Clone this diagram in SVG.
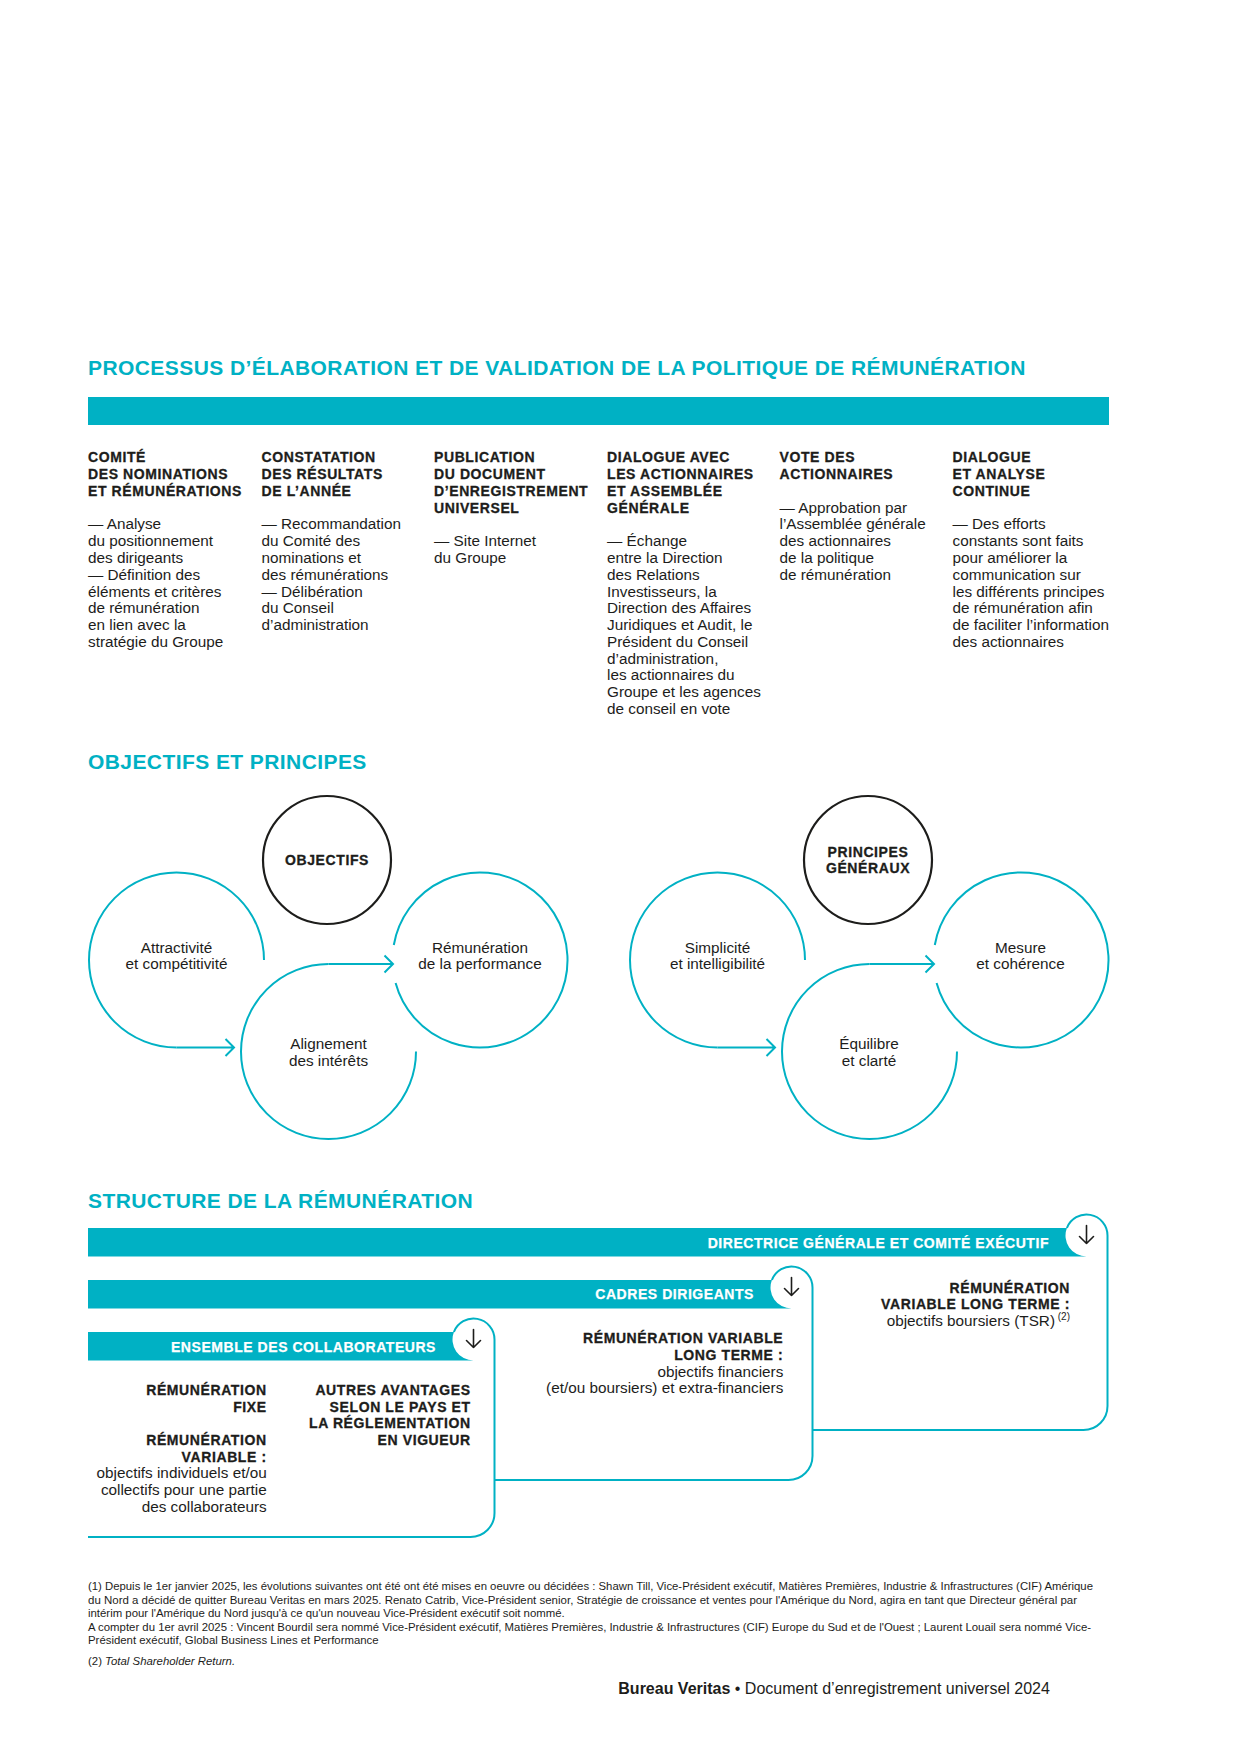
<svg xmlns="http://www.w3.org/2000/svg" width="1240" height="1753" viewBox="0 0 1240 1753">
<style>
  .title { font-family: "Liberation Sans", Arial, sans-serif; font-weight: bold; font-size: 21px; fill: #00B1C4; letter-spacing: 0.42px; }
  .h { font-family: "Liberation Sans", Arial, sans-serif; font-weight: bold; font-size: 14px; fill: #1d1d1b; stroke: #1d1d1b; stroke-width: 0.3px; letter-spacing: 0.6px; }
  .b { font-family: "Liberation Sans", Arial, sans-serif; font-size: 15.3px; fill: #1d1d1b; }
  .bw { font-family: "Liberation Sans", Arial, sans-serif; font-weight: bold; font-size: 14px; fill: #ffffff; stroke: #ffffff; stroke-width: 0.25px; letter-spacing: 0.55px; }
  .fn { font-family: "Liberation Sans", Arial, sans-serif; font-size: 11.4px; fill: #1d1d1b; }
  .ft { font-family: "Liberation Sans", Arial, sans-serif; font-size: 16px; fill: #1d1d1b; }
  .tl { fill: none; stroke: #00B1C4; stroke-width: 2; }
  .bk { fill: none; stroke: #1d1d1b; stroke-width: 2.2; }
  .ar { fill: none; stroke: #1d1d1b; stroke-width: 1.6; stroke-linecap: round; stroke-linejoin: round; }
  .bar { fill: #00B1C4; }
  .mid { text-anchor: middle; }
  .end { text-anchor: end; }
</style>

<!-- Section 1 -->
<text class="title" x="88" y="375">PROCESSUS D’ÉLABORATION ET DE VALIDATION DE LA POLITIQUE DE RÉMUNÉRATION</text>
<rect class="bar" x="88" y="397" width="1021" height="28"/>

<g id="col1">
  <text class="h" x="88" y="462.3">COMITÉ</text>
  <text class="h" x="88" y="479.1">DES NOMINATIONS</text>
  <text class="h" x="88" y="495.8">ET RÉMUNÉRATIONS</text>
  <text class="b" x="88" y="529.4">— Analyse</text>
  <text class="b" x="88" y="546.2">du positionnement</text>
  <text class="b" x="88" y="562.9">des dirigeants</text>
  <text class="b" x="88" y="579.7">— Définition des</text>
  <text class="b" x="88" y="596.5">éléments et critères</text>
  <text class="b" x="88" y="613.2">de rémunération</text>
  <text class="b" x="88" y="630.0">en lien avec la</text>
  <text class="b" x="88" y="646.7">stratégie du Groupe</text>
</g>
<g id="col2">
  <text class="h" x="261.5" y="462.3">CONSTATATION</text>
  <text class="h" x="261.5" y="479.1">DES RÉSULTATS</text>
  <text class="h" x="261.5" y="495.8">DE L’ANNÉE</text>
  <text class="b" x="261.5" y="529.4">— Recommandation</text>
  <text class="b" x="261.5" y="546.2">du Comité des</text>
  <text class="b" x="261.5" y="562.9">nominations et</text>
  <text class="b" x="261.5" y="579.7">des rémunérations</text>
  <text class="b" x="261.5" y="596.5">— Délibération</text>
  <text class="b" x="261.5" y="613.2">du Conseil</text>
  <text class="b" x="261.5" y="630.0">d’administration</text>
</g>
<g id="col3">
  <text class="h" x="434" y="462.3">PUBLICATION</text>
  <text class="h" x="434" y="479.1">DU DOCUMENT</text>
  <text class="h" x="434" y="495.8">D’ENREGISTREMENT</text>
  <text class="h" x="434" y="512.6">UNIVERSEL</text>
  <text class="b" x="434" y="546.2">— Site Internet</text>
  <text class="b" x="434" y="562.9">du Groupe</text>
</g>
<g id="col4">
  <text class="h" x="607" y="462.3">DIALOGUE AVEC</text>
  <text class="h" x="607" y="479.1">LES ACTIONNAIRES</text>
  <text class="h" x="607" y="495.8">ET ASSEMBLÉE</text>
  <text class="h" x="607" y="512.6">GÉNÉRALE</text>
  <text class="b" x="607" y="546.2">— Échange</text>
  <text class="b" x="607" y="562.9">entre la Direction</text>
  <text class="b" x="607" y="579.7">des Relations</text>
  <text class="b" x="607" y="596.5">Investisseurs, la</text>
  <text class="b" x="607" y="613.2">Direction des Affaires</text>
  <text class="b" x="607" y="630.0">Juridiques et Audit, le</text>
  <text class="b" x="607" y="646.7">Président du Conseil</text>
  <text class="b" x="607" y="663.5">d’administration,</text>
  <text class="b" x="607" y="680.3">les actionnaires du</text>
  <text class="b" x="607" y="697.0">Groupe et les agences</text>
  <text class="b" x="607" y="713.8">de conseil en vote</text>
</g>
<g id="col5">
  <text class="h" x="779.5" y="462.3">VOTE DES</text>
  <text class="h" x="779.5" y="479.1">ACTIONNAIRES</text>
  <text class="b" x="779.5" y="512.6">— Approbation par</text>
  <text class="b" x="779.5" y="529.4">l’Assemblée générale</text>
  <text class="b" x="779.5" y="546.2">des actionnaires</text>
  <text class="b" x="779.5" y="562.9">de la politique</text>
  <text class="b" x="779.5" y="579.7">de rémunération</text>
</g>
<g id="col6">
  <text class="h" x="952.5" y="462.3">DIALOGUE</text>
  <text class="h" x="952.5" y="479.1">ET ANALYSE</text>
  <text class="h" x="952.5" y="495.8">CONTINUE</text>
  <text class="b" x="952.5" y="529.4">— Des efforts</text>
  <text class="b" x="952.5" y="546.2">constants sont faits</text>
  <text class="b" x="952.5" y="562.9">pour améliorer la</text>
  <text class="b" x="952.5" y="579.7">communication sur</text>
  <text class="b" x="952.5" y="596.5">les différents principes</text>
  <text class="b" x="952.5" y="613.2">de rémunération afin</text>
  <text class="b" x="952.5" y="630.0">de faciliter l’information</text>
  <text class="b" x="952.5" y="646.7">des actionnaires</text>
</g>

<!-- Section 2 -->
<text class="title" x="88" y="768.5">OBJECTIFS ET PRINCIPES</text>

<g id="objectifs">
  <circle class="bk" cx="327" cy="860" r="64"/>
  <text class="h mid" x="327" y="865">OBJECTIFS</text>
</g>
<g id="attractivite">
  <path class="tl" d="M 264 960 A 87.5 87.5 0 1 0 176.5 1047.5"/>
  <text class="b mid" x="176.5" y="952.7">Attractivité</text>
  <text class="b mid" x="176.5" y="969.4">et compétitivité</text>
</g>
<g id="alignement">
  <path class="tl" d="M 416 1051.5 A 87.5 87.5 0 1 1 328.5 964"/>
  <text class="b mid" x="328.5" y="1049.4">Alignement</text>
  <text class="b mid" x="328.5" y="1066.1">des intérêts</text>
</g>
<g id="remuneration-performance">
  <path class="tl" d="M 393.8 945 A 87.5 87.5 0 1 1 395.6 983"/>
  <text class="b mid" x="480" y="952.7">Rémunération</text>
  <text class="b mid" x="480" y="969.4">de la performance</text>
</g>

<g id="principes">
  <circle class="bk" cx="868" cy="860" r="64"/>
  <text class="h mid" x="868" y="856.7">PRINCIPES</text>
  <text class="h mid" x="868" y="873.4">GÉNÉRAUX</text>
</g>
<g id="simplicite">
  <path class="tl" d="M 805 960 A 87.5 87.5 0 1 0 717.5 1047.5"/>
  <text class="b mid" x="717.5" y="952.7">Simplicité</text>
  <text class="b mid" x="717.5" y="969.4">et intelligibilité</text>
</g>
<g id="equilibre">
  <path class="tl" d="M 957 1051.5 A 87.5 87.5 0 1 1 869.5 964"/>
  <text class="b mid" x="869" y="1049.4">Équilibre</text>
  <text class="b mid" x="869" y="1066.1">et clarté</text>
</g>
<g id="mesure">
  <path class="tl" d="M 934.8 945 A 87.5 87.5 0 1 1 936.6 983"/>
  <text class="b mid" x="1020.5" y="952.7">Mesure</text>
  <text class="b mid" x="1020.5" y="969.4">et cohérence</text>
</g>

<g id="connectors">
  <path class="tl" d="M 176.5 1047.5 H 234 M 225.5 1039 L 234 1047.5 L 225.5 1056"/>
  <path class="tl" d="M 328.5 964 H 393 M 384.5 955.5 L 393 964 L 384.5 972.5"/>
  <path class="tl" d="M 717.5 1047.5 H 775 M 766.5 1039 L 775 1047.5 L 766.5 1056"/>
  <path class="tl" d="M 869.5 964 H 934 M 925.5 955.5 L 934 964 L 925.5 972.5"/>
</g>

<!-- Section 3 -->
<text class="title" x="88" y="1207.5">STRUCTURE DE LA RÉMUNÉRATION</text>

<g id="directrice">
  <path class="bar" d="M 88 1228 H 1066.9 A 21 21 0 0 0 1086.5 1256.5 H 88 Z"/>
  <path class="tl" d="M 1066.9 1228 A 21 21 0 0 1 1107.5 1235.5 V 1406 A 24 24 0 0 1 1083.5 1430 H 812.5"/>
  <path class="ar" d="M 1086.5 1225.5 V 1243.5 M 1079.5 1236.5 L 1086.5 1243.5 L 1093.5 1236.5"/>
  <text class="bw end" x="1049" y="1248">DIRECTRICE GÉNÉRALE ET COMITÉ EXÉCUTIF</text>
  <text class="h end" x="1070" y="1292.5">RÉMUNÉRATION</text>
  <text class="h end" x="1070" y="1309.2">VARIABLE LONG TERME :</text>
  <text class="b end" x="1070" y="1326">objectifs boursiers (TSR)<tspan font-size="10" dy="-6"> (2)</tspan></text>
</g>

<g id="cadres">
  <path class="bar" d="M 88 1280 H 771.9 A 21 21 0 0 0 791.5 1308.5 H 88 Z"/>
  <path class="tl" d="M 771.9 1280 A 21 21 0 0 1 812.5 1287.5 V 1456 A 24 24 0 0 1 788.5 1480 H 494.5"/>
  <path class="ar" d="M 791.5 1277.5 V 1295.5 M 784.5 1288.5 L 791.5 1295.5 L 798.5 1288.5"/>
  <text class="bw end" x="754" y="1298.5">CADRES DIRIGEANTS</text>
  <text class="h end" x="783.3" y="1343.3">RÉMUNÉRATION VARIABLE</text>
  <text class="h end" x="783.3" y="1360">LONG TERME :</text>
  <text class="b end" x="783.3" y="1376.7">objectifs financiers</text>
  <text class="b end" x="783.3" y="1393.4">(et/ou boursiers) et extra-financiers</text>
</g>

<g id="ensemble">
  <path class="bar" d="M 88 1332 H 453.9 A 21 21 0 0 0 473.5 1360.5 H 88 Z"/>
  <path class="tl" d="M 453.9 1332 A 21 21 0 0 1 494.5 1339.5 V 1513 A 24 24 0 0 1 470.5 1537 H 88"/>
  <path class="ar" d="M 473.5 1329.5 V 1347.5 M 466.5 1340.5 L 473.5 1347.5 L 480.5 1340.5"/>
  <text class="bw end" x="436" y="1352">ENSEMBLE DES COLLABORATEURS</text>
  <text class="h end" x="266.7" y="1395">RÉMUNÉRATION</text>
  <text class="h end" x="266.7" y="1411.7">FIXE</text>
  <text class="h end" x="266.7" y="1445">RÉMUNÉRATION</text>
  <text class="h end" x="266.7" y="1461.7">VARIABLE :</text>
  <text class="b end" x="266.7" y="1478.4">objectifs individuels et/ou</text>
  <text class="b end" x="266.7" y="1495.1">collectifs pour une partie</text>
  <text class="b end" x="266.7" y="1511.8">des collaborateurs</text>
  <text class="h end" x="470.7" y="1395">AUTRES AVANTAGES</text>
  <text class="h end" x="470.7" y="1411.7">SELON LE PAYS ET</text>
  <text class="h end" x="470.7" y="1428.4">LA RÉGLEMENTATION</text>
  <text class="h end" x="470.7" y="1445">EN VIGUEUR</text>
</g>

<!-- Footnotes -->
<g id="footnotes">
  <text class="fn" x="88" y="1590" textLength="1005" lengthAdjust="spacingAndGlyphs">(1) Depuis le 1er janvier 2025, les évolutions suivantes ont été ont été mises en oeuvre ou décidées : Shawn Till, Vice-Président exécutif, Matières Premières, Industrie &amp; Infrastructures (CIF) Amérique</text>
  <text class="fn" x="88" y="1603.5" textLength="989" lengthAdjust="spacingAndGlyphs">du Nord a décidé de quitter Bureau Veritas en mars 2025.  Renato Catrib, Vice-Président senior, Stratégie de croissance et ventes pour l'Amérique du Nord, agira en tant que Directeur général par</text>
  <text class="fn" x="88" y="1617">intérim pour l'Amérique du Nord jusqu'à ce qu'un nouveau Vice-Président exécutif  soit nommé.</text>
  <text class="fn" x="88" y="1630.5" textLength="1003" lengthAdjust="spacingAndGlyphs">A compter du 1er avril 2025 : Vincent Bourdil sera nommé Vice-Président exécutif, Matières Premières, Industrie &amp; Infrastructures (CIF) Europe du Sud et de l'Ouest ; Laurent Louail sera nommé Vice-</text>
  <text class="fn" x="88" y="1644">Président exécutif, Global Business Lines et Performance</text>
  <text class="fn" x="88" y="1664.5">(2) <tspan font-style="italic">Total Shareholder Return.</tspan></text>
</g>

<text class="ft" x="618.3" y="1694"><tspan font-weight="bold">Bureau Veritas</tspan> • Document d’enregistrement universel 2024</text>
</svg>
